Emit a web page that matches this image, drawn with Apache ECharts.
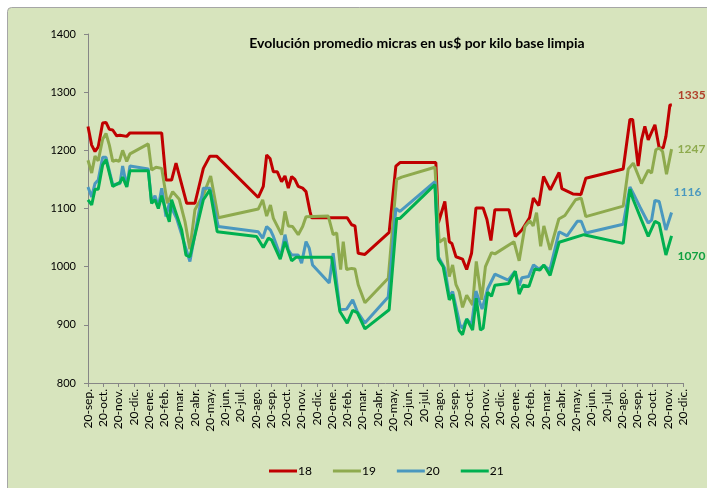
<!DOCTYPE html>
<html><head><meta charset="utf-8">
<script src="https://cdn.jsdelivr.net/npm/echarts@6/dist/echarts.min.js"></script>
<style>html,body{margin:0;padding:0;background:#fff;}#c{width:707px;height:488px;}</style>
</head><body><div id="c"></div>
<script>
const xLabels = ['20-sep.','20-oct.','20-nov.','20-dic.','20-ene.','20-feb.','20-mar.','20-abr.','20-may.','20-jun.','20-jul.','20-ago.',
 '20-sep.','20-oct.','20-nov.','20-dic.','20-ene.','20-feb.','20-mar.','20-abr.','20-may.','20-jun.','20-jul.','20-ago.',
 '20-sep.','20-oct.','20-nov.','20-dic.','20-ene.','20-feb.','20-mar.','20-abr.','20-may.','20-jun.','20-jul.','20-ago.',
 '20-sep.','20-oct.','20-nov.','20-dic.'];
const seriesNames = ['18','19','20','21'];
const endTexts = ['1335','1247','1116','1070'];
// [months since first tick, US$ per kg]
const s18 = [[0,1241],[0.24,1209],[0.46,1198],[0.67,1206],[0.96,1247],[1.18,1248],[1.40,1236],[1.62,1235],[1.88,1225],[2.10,1226],[2.54,1224],[2.75,1230],[4.83,1230],[5.11,1149],[5.48,1149],[5.77,1178],[6.47,1109],[7.01,1109],[7.56,1169],[7.99,1190],[8.43,1190],[11.16,1119],[11.49,1138],[11.71,1192],[11.93,1186],[12.15,1163],[12.41,1163],[12.69,1146],[12.91,1156],[13.13,1135],[13.35,1155],[13.56,1150],[13.78,1138],[14.07,1135],[14.29,1129],[14.55,1095],[14.66,1084],[16.99,1084],[17.28,1072],[17.50,1070],[17.71,1023],[18.15,1021],[19.74,1059],[20.18,1173],[20.45,1179],[22.80,1179],[22.96,1075],[23.39,1112],[23.68,1043],[23.85,1040],[24.12,1017],[24.55,1013],[24.82,995],[25.14,1023],[25.43,1101],[25.90,1101],[26.15,1081],[26.41,1045],[26.67,1098],[27.59,1098],[28.01,1052],[28.44,1063],[28.94,1084],[29.19,1118],[29.55,1105],[29.86,1155],[30.30,1132],[30.88,1162],[31.06,1134],[31.78,1125],[32.31,1124],[32.63,1152],[35.08,1168],[35.52,1253],[35.70,1253],[36.06,1173],[36.28,1218],[36.50,1241],[36.72,1218],[37.16,1244],[37.44,1204],[37.70,1204],[37.88,1224],[38.14,1278],[38.27,1278]];
const s19 = [[0,1183],[0.24,1161],[0.46,1190],[0.67,1182],[0.96,1219],[1.18,1229],[1.40,1209],[1.62,1181],[1.83,1183],[2.05,1181],[2.27,1200],[2.54,1181],[2.75,1194],[3.95,1211],[4.17,1166],[4.46,1171],[4.83,1169],[5.20,1109],[5.55,1129],[5.98,1116],[6.36,1077],[6.68,1030],[7.01,1098],[7.60,1126],[8.04,1156],[8.54,1084],[11.16,1099],[11.45,1115],[11.71,1087],[11.96,1106],[12.15,1083],[12.69,1055],[12.91,1095],[13.13,1070],[13.41,1069],[13.78,1055],[14.07,1069],[14.29,1086],[15.75,1087],[16.07,1055],[16.30,1058],[16.56,995],[16.73,1043],[16.95,995],[17.28,997],[17.50,996],[17.71,969],[18.15,938],[19.68,980],[20.23,1150],[20.56,1154],[22.74,1171],[23.02,1042],[23.39,1049],[23.68,983],[23.90,1003],[24.12,969],[24.33,957],[24.55,930],[24.82,951],[25.21,934],[25.45,1009],[25.80,943],[26.05,1000],[26.45,1024],[26.67,1022],[27.92,1043],[28.26,1010],[28.64,1069],[28.96,1079],[29.18,1070],[29.40,1093],[29.67,1035],[29.88,1070],[30.29,1029],[30.86,1082],[31.26,1088],[31.96,1115],[32.33,1118],[32.63,1086],[35.08,1104],[35.41,1168],[35.74,1178],[36.28,1143],[36.72,1166],[36.94,1161],[37.22,1201],[37.44,1204],[37.66,1198],[37.92,1159],[38.25,1202]];
const s20 = [[0,1137],[0.24,1120],[0.46,1143],[0.67,1149],[0.96,1188],[1.18,1188],[1.62,1141],[2.10,1143],[2.27,1173],[2.54,1138],[2.75,1173],[3.95,1168],[4.17,1109],[4.39,1122],[4.61,1103],[4.83,1135],[5.11,1086],[5.33,1109],[5.81,1083],[6.14,1055],[6.36,1036],[6.68,1009],[7.56,1135],[7.99,1135],[8.54,1069],[11.16,1060],[11.45,1049],[11.71,1069],[11.96,1063],[12.15,1052],[12.63,1017],[12.91,1055],[13.13,1029],[13.35,1020],[13.78,1020],[14.00,1006],[14.29,1043],[14.50,1032],[14.72,1003],[15.81,972],[16.07,1023],[16.51,926],[16.95,927],[17.35,943],[17.65,923],[18.15,903],[19.68,948],[20.18,1100],[20.45,1095],[22.74,1146],[22.96,1017],[23.39,997],[23.68,949],[23.90,957],[24.12,931],[24.38,900],[24.55,894],[24.82,910],[25.14,900],[25.43,958],[25.83,927],[26.20,962],[26.67,987],[27.54,977],[27.98,992],[28.26,967],[28.44,981],[28.88,983],[29.20,1003],[29.55,996],[29.88,1002],[30.27,994],[30.88,1060],[31.40,1053],[32.07,1078],[32.33,1078],[32.63,1058],[35.08,1073],[35.52,1137],[35.74,1126],[36.17,1103],[36.72,1075],[36.94,1080],[37.16,1114],[37.44,1112],[37.88,1063],[38.25,1093]];
const s21 = [[0,1115],[0.24,1106],[0.46,1133],[0.67,1133],[0.96,1175],[1.18,1184],[1.62,1138],[2.10,1145],[2.27,1154],[2.54,1137],[2.75,1165],[3.95,1165],[4.17,1109],[4.39,1115],[4.61,1100],[4.83,1122],[5.11,1095],[5.33,1077],[5.48,1115],[5.81,1089],[6.14,1063],[6.42,1020],[6.68,1017],[7.56,1115],[7.99,1132],[8.47,1060],[11.05,1052],[11.49,1033],[11.82,1049],[12.03,1046],[12.60,1013],[12.91,1043],[13.35,1010],[13.63,1016],[15.97,1016],[16.51,923],[16.99,903],[17.35,925],[17.65,921],[18.15,893],[19.74,926],[20.23,1083],[20.45,1083],[22.74,1141],[22.96,1013],[23.28,1000],[23.68,943],[23.90,952],[24.33,890],[24.55,883],[24.82,910],[25.21,891],[25.45,946],[25.72,891],[25.90,894],[26.20,956],[26.45,949],[26.67,968],[27.57,971],[28.01,992],[28.26,953],[28.52,968],[28.90,966],[29.29,996],[29.62,994],[29.88,1003],[30.29,985],[30.88,1042],[32.50,1055],[35.08,1040],[35.52,1133],[35.74,1115],[36.28,1080],[36.72,1052],[37.16,1078],[37.44,1074],[37.88,1020],[38.25,1053]];

const colors = ['#C00000','#8EAA4E','#4A98BF','#00B050'];
const labelColors = ['#B0402A','#8EAA4E','#4A98BF','#10A040'];
const endOffsets = [[2,-10],[2,0],[-2,-20],[2,20]];
const allData = [s18,s19,s20,s21];
const FONT = 'Lato, "Open Sans", sans-serif';

const chart = echarts.init(document.getElementById('c'));
chart.setOption({
  animation:false,
  backgroundColor:'#ffffff',
  graphic:[{type:'rect',left:7,top:7,z:-10,shape:{width:720,height:500,r:4},style:{fill:'#D7E4BD',stroke:'#A6A6A6',lineWidth:1}}],
  title:{text:'Evolución promedio micras en us$ por kilo base limpia',left:412,top:31,textAlign:'center',
    textStyle:{fontFamily:FONT,fontSize:14,fontWeight:'bold',color:'#000'}},
  legend:{bottom:6,left:264,itemWidth:28,itemHeight:3,itemGap:21,icon:'rect',
    textStyle:{fontFamily:FONT,fontSize:12,color:'#000',padding:[0,0,0,-4]},
    data:seriesNames},
  grid:{left:88,right:24,top:34,bottom:105},
  xAxis:{type:'value',min:0,max:39,interval:1,
    axisLine:{lineStyle:{color:'#868686'}},
    axisTick:{show:true,length:4,lineStyle:{color:'#868686'}},
    splitLine:{show:false},
    axisLabel:{rotate:90,fontFamily:FONT,fontSize:12,color:'#000',margin:6,
      formatter:v=>xLabels[Math.round(v)]||''}},
  yAxis:{type:'value',min:800,max:1400,interval:100,
    axisLine:{show:true,lineStyle:{color:'#868686'}},
    axisTick:{show:true,length:4,lineStyle:{color:'#868686'}},
    splitLine:{show:false},
    axisLabel:{fontFamily:FONT,fontSize:11,color:'#000',margin:12,formatter:v=>String(v)}},
  series:allData.map((d,i)=>({
    name:seriesNames[i],type:'line',data:d,showSymbol:false,symbol:'none',
    lineStyle:{width:3,color:colors[i]},itemStyle:{color:colors[i]},
    endLabel:{show:true,formatter:endTexts[i],offset:endOffsets[i],distance:4,
      fontFamily:FONT,fontSize:12,fontWeight:'bold',color:labelColors[i]}
  }))
});
</script></body></html>
